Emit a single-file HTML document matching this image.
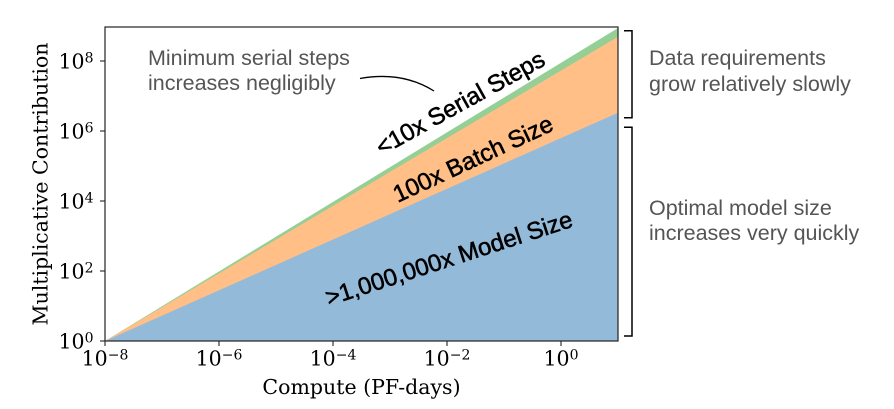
<!DOCTYPE html>
<html>
<head>
<meta charset="utf-8">
<style>
  html, body { margin: 0; padding: 0; background: #ffffff; }
  svg { display: block; }
  .tick { font-family: "DejaVu Serif", "Liberation Serif", serif; font-size: 20.5px; fill: #000; }
  .sup { font-size: 14px; }
  .lab { font-family: "DejaVu Serif", "Liberation Serif", serif; font-size: 20.5px; fill: #000; }
  .ann { font-family: "Liberation Sans", "DejaVu Sans", sans-serif; font-size: 21.5px; fill: #555555; }
  .inner { font-family: "Liberation Sans", "DejaVu Sans", sans-serif; font-size: 24px; fill: #000; stroke: #000; stroke-width: 0.55px; }
</style>
</head>
<body>
<svg width="894" height="409" viewBox="0 0 894 409" xmlns="http://www.w3.org/2000/svg">
  <rect x="0" y="0" width="894" height="409" fill="#ffffff"/>

  <!-- filled regions -->
  <polygon points="105,341 618,28 618,341" fill="#95cf95"/>
  <polygon points="105,341 618,36.7 618,341" fill="#ffbf86"/>
  <polygon points="105,341 618,112.7 618,341" fill="#94bad9"/>

  <!-- frame -->
  <rect x="105" y="27" width="513" height="314" fill="none" stroke="#222" stroke-width="1.2"/>

  <!-- y ticks -->
  <g stroke="#222" stroke-width="1.1">
    <line x1="100" y1="341" x2="105" y2="341"/>
    <line x1="100" y1="271" x2="105" y2="271"/>
    <line x1="100" y1="201" x2="105" y2="201"/>
    <line x1="100" y1="131" x2="105" y2="131"/>
    <line x1="100" y1="61" x2="105" y2="61"/>
  </g>
  <!-- x ticks -->
  <g stroke="#222" stroke-width="1.1">
    <line x1="105" y1="341" x2="105" y2="346"/>
    <line x1="219" y1="341" x2="219" y2="346"/>
    <line x1="333" y1="341" x2="333" y2="346"/>
    <line x1="447" y1="341" x2="447" y2="346"/>
    <line x1="561" y1="341" x2="561" y2="346"/>
  </g>

  <!-- y tick labels -->
  <text class="tick" x="93.5" y="348.5" text-anchor="end">10<tspan class="sup" dy="-6">0</tspan></text>
  <text class="tick" x="93.5" y="278.5" text-anchor="end">10<tspan class="sup" dy="-6">2</tspan></text>
  <text class="tick" x="93.5" y="208.5" text-anchor="end">10<tspan class="sup" dy="-6">4</tspan></text>
  <text class="tick" x="93.5" y="138.5" text-anchor="end">10<tspan class="sup" dy="-6">6</tspan></text>
  <text class="tick" x="93.5" y="68.5" text-anchor="end">10<tspan class="sup" dy="-6">8</tspan></text>

  <!-- x tick labels -->
  <text class="tick" x="105" y="365.5" text-anchor="middle">10<tspan class="sup" dy="-6">−8</tspan></text>
  <text class="tick" x="219" y="365.5" text-anchor="middle">10<tspan class="sup" dy="-6">−6</tspan></text>
  <text class="tick" x="333" y="365.5" text-anchor="middle">10<tspan class="sup" dy="-6">−4</tspan></text>
  <text class="tick" x="447" y="365.5" text-anchor="middle">10<tspan class="sup" dy="-6">−2</tspan></text>
  <text class="tick" x="561" y="365.5" text-anchor="middle">10<tspan class="sup" dy="-6">0</tspan></text>

  <!-- axis labels -->
  <text class="lab" x="361.5" y="394" text-anchor="middle">Compute (PF-days)</text>
  <text class="lab" x="47.5" y="184" text-anchor="middle" transform="rotate(-90 47.5 184)">Multiplicative Contribution</text>

  <!-- inner labels -->
  <text class="inner" x="460.5" y="111" text-anchor="middle" transform="rotate(-29 460.5 103.5)">&lt;10x Serial Steps</text>
  <text class="inner" x="473" y="167" text-anchor="middle" transform="rotate(-25 473 159)">100x Batch Size</text>
  <text class="inner" x="449" y="266.5" text-anchor="middle" transform="rotate(-18 449 258.5)">&gt;1,000,000x Model Size</text>

  <!-- annotations -->
  <text class="ann" x="148" y="65">Minimum serial steps</text>
  <text class="ann" x="148" y="90">increases negligibly</text>
  <path d="M360,78.5 Q402,71 434,91" fill="none" stroke="#000" stroke-width="1.3"/>

  <text class="ann" x="649" y="65">Data requirements</text>
  <text class="ann" x="649" y="91">grow relatively slowly</text>

  <text class="ann" x="649" y="215">Optimal model size</text>
  <text class="ann" x="649" y="240">increases very quickly</text>

  <!-- brackets -->
  <path d="M624,30.7 H632 V117.7 H624" fill="none" stroke="#000" stroke-width="1.5"/>
  <path d="M624,127.3 H632 V336 H624" fill="none" stroke="#000" stroke-width="1.5"/>
</svg>
</body>
</html>
